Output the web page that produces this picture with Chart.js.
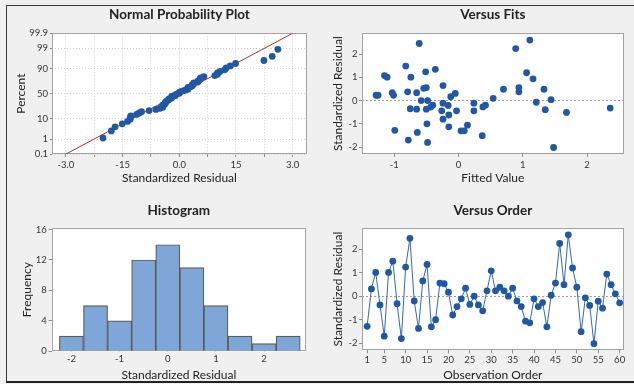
<!DOCTYPE html>
<html lang="en">
<head>
<meta charset="UTF-8">
<title>Residual Plots</title>
<script src="https://cdn.jsdelivr.net/npm/chart.js"></script>
<style>
  html, body { margin: 0; padding: 0; background: #f0f0f0; }
  body { width: 634px; height: 384px; position: relative; overflow: hidden; }
  canvas { position: absolute; }
  #frame { position: absolute; left: 6px; top: 5px; width: 700px; height: 375px;
           border-left: 1px solid #3a3a3a; border-top: 1px solid #3a3a3a; border-bottom: 2px solid #222;
           pointer-events: none; }
</style>
</head>
<body>
<canvas id="npp" style="left:6px;top:5px" width="311" height="187"></canvas>
<canvas id="fits" style="left:317px;top:5px" width="317" height="187"></canvas>
<canvas id="hist" style="left:6px;top:192px" width="311" height="192"></canvas>
<canvas id="order" style="left:317px;top:192px" width="317" height="192"></canvas>
<div id="frame"></div>

<script>
// standardized residuals, in observation order 1..60
const residuals = [
  -1.28, 0.31, 1.01, -0.37, -1.70, 1.01, 1.49, -0.32, -1.80, 1.24,
   2.46, -0.20, -1.37, 0.65, 1.35, -1.30, -1.00, 0.56, 0.53, 0.17,
  -0.80, -0.44, -0.11, 0.34, -0.35, 0.00, -0.37, -0.62, 0.23, 1.08,
   0.23, 0.38, 0.23, 0.00, 0.34, -0.20, -0.44, -1.06, -1.13, -0.11,
  -0.44, -0.27, -1.30, 0.04, 0.56, 2.24, 0.49, 2.61, 1.20, 0.38,
  -1.51, -0.07, -0.39, -2.02, -0.21, -0.51, 0.94, 0.49, 0.10, -0.28
];
// fitted values, same order
const fitted = [
  -0.99, -0.05, -1.11, -0.65, -0.78, -0.74, -0.82, 2.36, -0.48, -0.51,
  -0.61, 0.42, -0.64, -0.24, -0.36, 0.04, -0.49, 0.94, -0.54, -0.12,
  -0.24, -0.26, 0.24, -0.65, -0.75, -0.58, -0.50, -0.15, -1.28, -1.15,
  -1.25, 0.94, -1.01, -0.48, -1.03, -0.40, -0.03, 0.14, -0.15, -0.24,
   0.24, 0.38, 0.09, 1.44, -0.50, 0.89, 0.70, 1.11, 1.06, -0.79,
   0.37, 1.21, 1.35, 1.48, -0.16, 1.68, 1.16, 1.33, 0.54, -0.43
];
const histCenters = [-2, -1.5, -1, -0.5, 0, 0.5, 1, 1.5, 2, 2.5];
const histCounts = [2, 6, 4, 12, 14, 11, 6, 2, 1, 2];

const pctTicks = [0.1, 1, 10, 50, 90, 99, 99.9];
const pctLabels = ['0.1', '1', '10', '50', '90', '99', '99.9'];
const nppXTicks = [-3, -2.25, -1.5, -0.75, 0, 0.75, 1.5, 2.25, 3];
const nppXLabels = { '-3': '-3.0', '-1.5': '-15', '0': '0.0', '1.5': '15', '3': '3.0' };
const fitMean = 0, fitSd = 0.97;

const residTicks = [-2, -1, 0, 1, 2];
const fitsXTicks = [-1, 0, 1, 2];
const histXTicks = [-2, -1, 0, 1, 2];
const histYTicks = [0, 4, 8, 12, 16];
const orderXTicks = [1, 5, 10, 15, 20, 25, 30, 35, 40, 45, 50, 55, 60];

const blue = '#2058a6';

// inverse normal cdf (Acklam)
function normInv(p) {
  const a = [-39.69683028665376, 220.9460984245205, -275.9285104469687, 138.357751867269, -30.66479806614716, 2.506628277459239];
  const b = [-54.47609879822406, 161.5858368580409, -155.6989798598866, 66.80131188771972, -13.28068155288572];
  const c = [-0.007784894002430293, -0.3223964580411365, -2.400758277161838, -2.549732539343734, 4.374664141464968, 2.938163982698783];
  const d = [0.007784695709041462, 0.3224671290700398, 2.445134137142996, 3.754408661907416];
  const pl = 0.02425;
  if (p < pl) {
    const q = Math.sqrt(-2 * Math.log(p));
    return (((((c[0]*q+c[1])*q+c[2])*q+c[3])*q+c[4])*q+c[5]) / ((((d[0]*q+d[1])*q+d[2])*q+d[3])*q+1);
  }
  if (p > 1 - pl) {
    const q = Math.sqrt(-2 * Math.log(1 - p));
    return -(((((c[0]*q+c[1])*q+c[2])*q+c[3])*q+c[4])*q+c[5]) / ((((d[0]*q+d[1])*q+d[2])*q+d[3])*q+1);
  }
  const q = p - 0.5, r = q * q;
  return (((((a[0]*r+a[1])*r+a[2])*r+a[3])*r+a[4])*r+a[5])*q / (((((b[0]*r+b[1])*r+b[2])*r+b[3])*r+b[4])*r+1);
}

Chart.defaults.font.family = "Lato, 'Noto Sans', sans-serif";
Chart.defaults.color = '#333';
Chart.defaults.animation = false;

// white plot area + grey box
const plotFrame = {
  id: 'plotFrame',
  beforeDraw(chart) {
    const { ctx, chartArea: a } = chart;
    ctx.save();
    ctx.fillStyle = '#fff';
    ctx.fillRect(a.left, a.top, a.width, a.height);
    ctx.restore();
  },
  beforeDatasetsDraw(chart) {
    const { ctx, chartArea: a } = chart;
    ctx.save();
    ctx.strokeStyle = '#a3a3a3';
    ctx.lineWidth = 1;
    ctx.strokeRect(Math.round(a.left) + 0.5, Math.round(a.top) + 0.5, Math.round(a.width) - 1, Math.round(a.height) - 1);
    ctx.restore();
  }
};

function axis(o) {
  return {
    type: 'linear', min: o.min, max: o.max, offset: false,
    afterFit(s) { if (s.isHorizontal()) s.height = o.size; else s.width = o.size; },
    afterBuildTicks(s) { s.ticks = o.ticks.map(v => ({ value: v })); },
    border: { display: false, dash: o.dash || [] },
    grid: { color: o.gridColor || 'rgba(0,0,0,0)', offset: false, drawTicks: true,
            tickLength: o.tickLength, tickColor: '#8c8c8c', tickWidth: 1, tickBorderDash: [] },
    ticks: { font: { size: 9.5 }, color: '#333', padding: o.pad, maxRotation: 0, autoSkip: false,
             callback: o.label || (v => v) },
    title: { display: true, text: o.title, font: { size: 12 }, color: '#222', padding: o.titlePad }
  };
}

function baseOptions(o) {
  return {
    responsive: false,
    layout: { padding: { left: 0, top: 0, right: o.right, bottom: 0 } },
    plugins: {
      legend: { display: false },
      tooltip: { enabled: false },
      title: { display: true, text: o.title, fullSize: false, color: '#222',
               font: { size: 13.5, weight: 'bold' }, padding: o.titlePad }
    },
    scales: { x: o.x, y: o.y }
  };
}

const zeroLine = ctx => (ctx.tick && ctx.tick.value === 0) ? '#9c9c9c' : 'rgba(0,0,0,0)';

// Normal probability plot
const sorted = residuals.slice().sort((p, q) => p - q);
const n = sorted.length;
const nppPoints = sorted.map((v, i) => ({ x: v, y: normInv((i + 1 - 0.3) / (n + 0.4)) }));
const zLo = normInv(0.001), zHi = normInv(0.999);
const nppLine = [{ x: fitMean + fitSd * zLo, y: zLo }, { x: fitMean + fitSd * zHi, y: zHi }];

new Chart(document.getElementById('npp'), {
  type: 'scatter',
  data: { datasets: [
    { data: nppPoints, pointRadius: 3.4, pointBackgroundColor: blue, pointBorderWidth: 0 },
    { data: nppLine, showLine: true, pointRadius: 0, borderColor: '#b0302c', borderWidth: 1 }
  ] },
  options: baseOptions({
    title: 'Normal Probability Plot', right: 10, titlePad: { top: 1.9, bottom: 10.2 },
    x: axis({ min: -3.37, max: 3.38, size: 38, ticks: nppXTicks, tickLength: 3, pad: 2,
              gridColor: '#d2d2d2', dash: [1, 2], label: v => nppXLabels[String(v)] || '',
              title: 'Standardized Residual', titlePad: { top: 0, bottom: 6.8 } }),
    y: axis({ min: zLo, max: zHi, size: 46, ticks: pctTicks.map(p => normInv(p / 100)), tickLength: 2, pad: 2,
              gridColor: '#d2d2d2', dash: [1, 2], label: (v, i) => pctLabels[i],
              title: 'Percent', titlePad: { top: 8.3, bottom: 0 } })
  }),
  plugins: [plotFrame]
});

// Versus fits
new Chart(document.getElementById('fits'), {
  type: 'scatter',
  data: { datasets: [
    { data: fitted.map((f, i) => ({ x: f, y: residuals[i] })), pointRadius: 3.4,
      pointBackgroundColor: blue, pointBorderWidth: 0 }
  ] },
  options: baseOptions({
    title: 'Versus Fits', right: 10.3, titlePad: { top: 1.9, bottom: 10.2 },
    x: axis({ min: -1.5, max: 2.57, size: 38, ticks: fitsXTicks, tickLength: 3, pad: 2,
              title: 'Fitted Value', titlePad: { top: 0, bottom: 6.8 } }),
    y: axis({ min: -2.3, max: 2.9, size: 45, ticks: residTicks, tickLength: 3, pad: 1.5,
              gridColor: zeroLine, dash: [2, 2],
              title: 'Standardized Residual', titlePad: { top: 13.5, bottom: 0 } })
  }),
  plugins: [plotFrame]
});

// Histogram
new Chart(document.getElementById('hist'), {
  type: 'bar',
  data: { datasets: [
    { data: histCenters.map((c, i) => ({ x: c, y: histCounts[i] })),
      backgroundColor: '#7ea6d7', borderColor: '#5b5b5b', borderWidth: 1.2,
      barPercentage: 1, categoryPercentage: 1 }
  ] },
  options: baseOptions({
    title: 'Histogram', right: 11, titlePad: { top: 10.2, bottom: 9.6 },
    x: axis({ min: -2.41, max: 2.87, size: 32.7, ticks: histXTicks, tickLength: 0, pad: 2,
              title: 'Standardized Residual', titlePad: { top: 0, bottom: 2.1 } }),
    y: axis({ min: 0, max: 16.2, size: 45.7, ticks: histYTicks, tickLength: 3, pad: 2,
              title: 'Frequency', titlePad: { top: 13.5, bottom: 0 } })
  }),
  plugins: [plotFrame]
});

// Versus order
new Chart(document.getElementById('order'), {
  type: 'scatter',
  data: { datasets: [
    { data: residuals.map((r, i) => ({ x: i + 1, y: r })), showLine: true,
      borderColor: '#3568b5', borderWidth: 1, pointRadius: 3.4,
      pointBackgroundColor: blue, pointBorderWidth: 0 }
  ] },
  options: baseOptions({
    title: 'Versus Order', right: 10.3, titlePad: { top: 10.2, bottom: 9.6 },
    x: axis({ min: -0.2, max: 60.95, size: 33.7, ticks: orderXTicks, tickLength: 3, pad: 1.3,
              title: 'Observation Order', titlePad: { top: 0, bottom: 2.1 } }),
    y: axis({ min: -2.3, max: 2.9, size: 45, ticks: residTicks, tickLength: 3, pad: 1.5,
              gridColor: zeroLine, dash: [2, 2],
              title: 'Standardized Residual', titlePad: { top: 13.5, bottom: 0 } })
  }),
  plugins: [plotFrame]
});
</script>
</body>
</html>
